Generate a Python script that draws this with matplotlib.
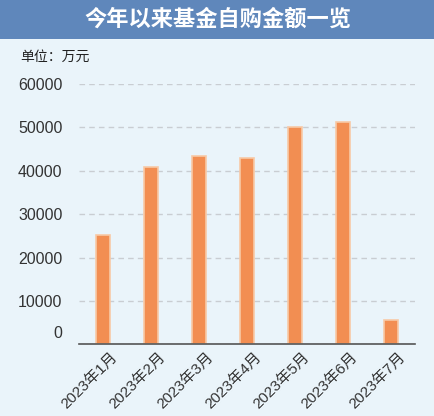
import matplotlib.pyplot as plt
import matplotlib.transforms as mtransforms
from matplotlib.patches import Rectangle

plt.rcParams['font.family'] = ['Liberation Sans', 'Noto Sans CJK SC', 'DejaVu Sans']

# data (unit: 10k yuan)
months = ["2023年1月", "2023年2月", "2023年3月", "2023年4月",
          "2023年5月", "2023年6月", "2023年7月"]
amounts = [25200, 40800, 43400, 43000, 50000, 51300, 5700]
yticks = [0, 10000, 20000, 30000, 40000, 50000, 60000]

bg = "#eaf4fa"
fig = plt.figure(figsize=(4.35, 4.16), dpi=100, facecolor=bg)

# header band with title
fig.patches.append(Rectangle((0, 1 - 39 / 416), 1, 39 / 416, transform=fig.transFigure,
                             facecolor="#5f87bb", edgecolor="none", zorder=0))
fig.text(0.5, 1 - 20 / 416, "今年以来基金自购金额一览", color="white", fontsize=16,
         fontweight="bold", ha="center", va="center")
fig.text(20 / 435, 1 - 57 / 416, "单位：万元", color="#222222", fontsize=10,
         ha="left", va="center")

ax = fig.add_axes([79 / 435, 1 - 344.3 / 416, (415 - 79) / 435, (344.3 - 84) / 416])
ax.set_facecolor(bg)

x = range(len(months))
ax.bar(x, amounts, width=0.31, color="#f28e52", edgecolor="#f8c9a6", linewidth=1.2, zorder=3)

ax.set_xlim(-0.5, 6.5)
ax.set_ylim(0, 60000)
ax.set_yticks(yticks)
ax.set_yticklabels([str(v) for v in yticks])
ax.grid(axis="y", linestyle=(0, (4, 3)), color="#c9cdd2", linewidth=1, zorder=0)

for s in ["top", "right", "left"]:
    ax.spines[s].set_visible(False)
ax.spines["bottom"].set_color("#555555")
ax.spines["bottom"].set_linewidth(1.2)
ax.spines["bottom"].set_zorder(4)

ax.tick_params(axis="y", length=0, pad=12, labelsize=11.5, labelcolor="#333333")
ax.tick_params(axis="x", length=0, pad=4, labelsize=11, labelcolor="#333333")

ax.set_xticks(list(x))
ax.set_xticklabels(months, rotation=45, ha="right", rotation_mode="anchor")
shift = mtransforms.ScaledTranslation(7 / 100, 0, fig.dpi_scale_trans)
for lab in ax.get_xticklabels():
    lab.set_transform(lab.get_transform() + shift)

# the "0" label sits a bit above the baseline
zero = ax.get_yticklabels()[0]
zero.set_transform(zero.get_transform() + mtransforms.ScaledTranslation(0, 12 / 100, fig.dpi_scale_trans))

fig.savefig("out.png", dpi=100, facecolor=bg)
